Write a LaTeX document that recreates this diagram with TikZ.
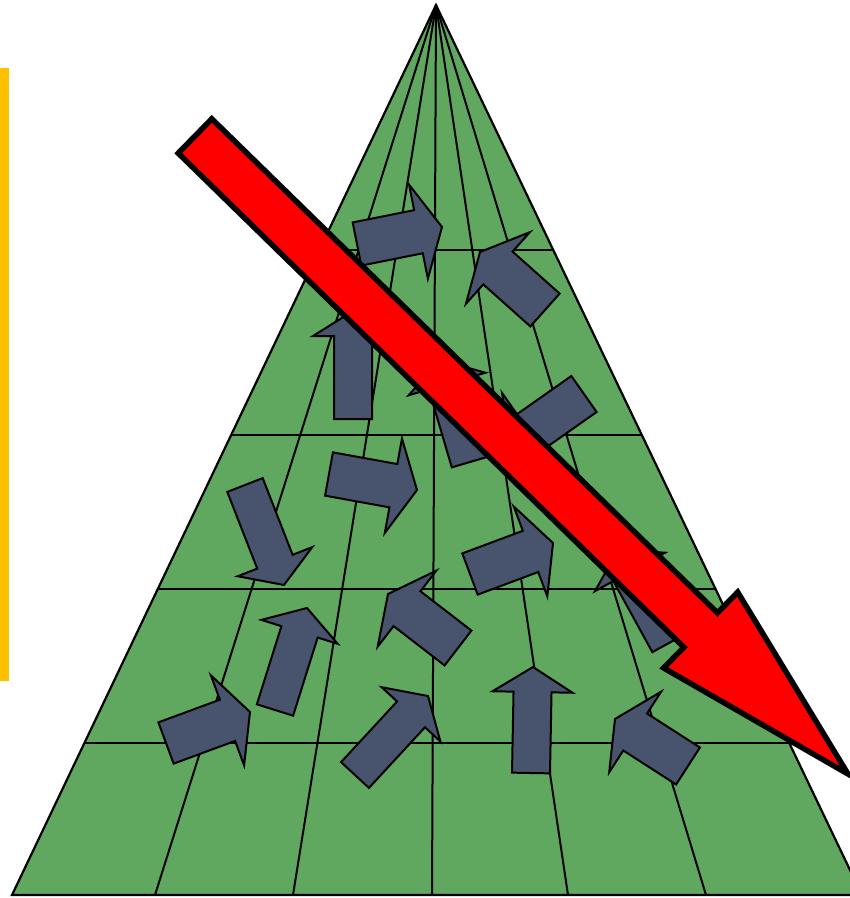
\documentclass[tikz,border=0pt]{standalone}
\usepackage{xcolor}
\usepackage{tikz}
\usetikzlibrary{calc}
\pgfdeclarelayer{paperlayer}
\pgfdeclarelayer{gridlayer}
\pgfdeclarelayer{arrowlayer}
\pgfsetlayers{paperlayer,gridlayer,arrowlayer,main}
\tikzstyle{grid line}=[draw=black,line width=2pt]
\tikzstyle{cone}=[draw=black,line width=2.2pt]
\tikzstyle{side bar}=[draw=none]
\tikzstyle{dark arrow}=[draw=black,line width=2pt,line join=miter]
\tikzstyle{red arrow}=[draw=black,line width=5.5pt,line join=miter,fill=red]
\tikzset{
	cone/.append style={fill={rgb,255:red,96;green,168;blue,96}},
	side bar/.append style={fill={rgb,255:red,255;green,192;blue,0}},
	dark arrow/.append style={fill={rgb,255:red,72;green,84;blue,110}}
}
% block arrow: name, style, tail, tip, half shaft, half head, head length
\newcommand{\blkarrow}[7]{%
	\coordinate (#1t) at (#3);
	\coordinate (#1p) at (#4);
	\coordinate (#1b) at ($(#1p)!#7!(#1t)$);
	\draw [style=#2] ($(#1t)!#5!90:(#1p)$) -- ($(#1b)!#5!90:(#1p)$)
		-- ($(#1b)!#6!90:(#1p)$) -- (#1p) -- ($(#1b)!#6!-90:(#1p)$)
		-- ($(#1b)!#5!-90:(#1p)$) -- ($(#1t)!#5!-90:(#1p)$) -- cycle;
}

\begin{document}
\begin{tikzpicture}[x=1pt,y=-1pt]
	\useasboundingbox (0,0) rectangle (850,898);
	\begin{pgfonlayer}{paperlayer}
		\fill [white] (0,0) rectangle (850,898);
		\fill [style=side bar] (0,68) rectangle (9,681);
	\end{pgfonlayer}
	\begin{pgfonlayer}{gridlayer}
		\coordinate (apex) at (436,5);
		\coordinate (bl) at (12,895);
		\coordinate (br) at (862,895);
		\fill [style=cone,draw=none] (apex) -- (bl) -- (br) -- cycle;
		\foreach \f in {0.2753,0.4831,0.6562,0.8292}
			\draw [style=grid line] ($(apex)!\f!(bl)$) -- ($(apex)!\f!(br)$);
		\foreach \bx [count=\i] in {155,293,432,568,706} {
			\coordinate (b\i) at (\bx,895);
			\draw [style=grid line] (apex) -- (b\i);
		}
		\draw [style=cone,fill=none] (apex) -- (bl) -- (br) -- cycle;
	\end{pgfonlayer}
	\begin{pgfonlayer}{arrowlayer}
		\blkarrow{a1}{dark arrow}{357,244}{442,227}{22pt}{48pt}{24pt}
		\blkarrow{a2}{dark arrow}{545,310}{480,252}{22pt}{48pt}{24pt}
		\blkarrow{a3}{dark arrow}{353,419}{353,311}{19pt}{40pt}{25pt}
		\blkarrow{a4}{dark arrow}{584,394}{510,446}{22pt}{48pt}{24pt}
		\blkarrow{a5}{dark arrow}{470,462}{440,360}{19pt}{40pt}{25pt}
		\blkarrow{a6}{dark arrow}{329,474}{417,490}{22pt}{48pt}{24pt}
		\blkarrow{a7}{dark arrow}{245,485}{284,585}{19pt}{40pt}{25pt}
		\blkarrow{a8}{dark arrow}{470,574}{553,543}{22pt}{48pt}{24pt}
		\blkarrow{a9}{dark arrow}{458,648}{388,594}{22pt}{48pt}{24pt}
		\blkarrow{a10}{dark arrow}{669,643}{618,550}{19pt}{40pt}{25pt}
		\blkarrow{a11}{dark arrow}{275,710}{307,608}{19pt}{40pt}{25pt}
		\blkarrow{a12}{dark arrow}{166,743}{250,712}{22pt}{48pt}{24pt}
		\blkarrow{a13}{dark arrow}{355,775}{428,696}{19pt}{40pt}{25pt}
		\blkarrow{a14}{dark arrow}{531,773}{533,667}{19pt}{40pt}{25pt}
		\blkarrow{a15}{dark arrow}{688,766}{615,719}{22pt}{48pt}{24pt}
	\end{pgfonlayer}
	\blkarrow{r}{red arrow}{195,136}{848,774}{24pt}{53pt}{206pt}
\end{tikzpicture}
\end{document}
